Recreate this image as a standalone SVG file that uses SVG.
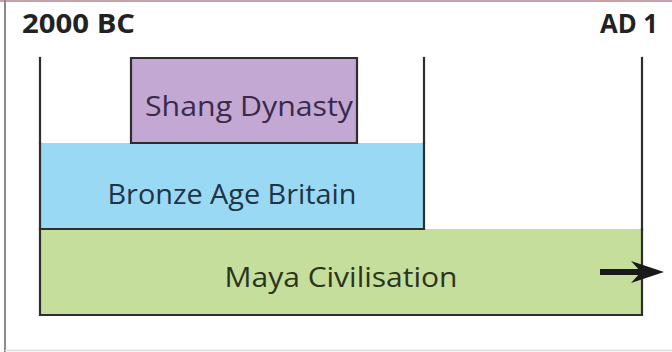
<svg xmlns="http://www.w3.org/2000/svg" width="672" height="352" viewBox="0 0 672 352">
  <style>
    .edge { stroke: #2e2e2e; stroke-width: 2.2; fill: none; stroke-linecap: square; }
    .lbl { font-family: "Open Sans", "Noto Sans", "Liberation Sans", sans-serif; font-size: 27px; text-anchor: middle; }
    .date { font-family: "Open Sans", "Liberation Sans", sans-serif; font-size: 26px; font-weight: bold; fill: #222222; }
  </style>
  <rect x="0" y="0" width="672" height="352" fill="#ffffff"/>
  <!-- frame -->
  <g id="frame">
    <line x1="0" y1="1" x2="672" y2="1" stroke="#c9a0a8" stroke-width="2"/>
    <line x1="5" y1="0" x2="5" y2="352" stroke="#8a8a8a" stroke-width="2"/>
    <line x1="5" y1="350.5" x2="672" y2="350.5" stroke="#dddddd" stroke-width="1.5"/>
  </g>
  <g id="date-start">
    <text class="date" x="22" y="33" textLength="113" lengthAdjust="spacingAndGlyphs">2000 BC</text>
  </g>
  <g id="date-end">
    <text class="date" x="600" y="33" textLength="58" lengthAdjust="spacingAndGlyphs">AD 1</text>
  </g>
  <g id="maya">
    <rect x="40" y="229" width="602" height="86" fill="#c6de9b"/>
    <path class="edge" d="M40 229 V315 H642 V229"/>
    <text class="lbl" x="341" y="287" fill="#2a3520" textLength="233" lengthAdjust="spacingAndGlyphs">Maya Civilisation</text>
  </g>
  <g id="bronze">
    <rect x="40" y="143" width="384" height="86" fill="#9ad9f4"/>
    <path class="edge" d="M40 143 V229 H424 V143"/>
    <text class="lbl" x="232" y="204" fill="#1f3446" textLength="249" lengthAdjust="spacingAndGlyphs">Bronze Age Britain</text>
  </g>
  <g id="shang">
    <rect x="131" y="58" width="226" height="85" fill="#c4a8d4"/>
    <path class="edge" d="M131 143 V58 H357 V143 H131"/>
    <text class="lbl" x="249" y="116" fill="#3a2a4a" textLength="208" lengthAdjust="spacingAndGlyphs">Shang Dynasty</text>
  </g>
  <g id="connectors">
    <line class="edge" x1="40" y1="58" x2="40" y2="143"/>
    <line class="edge" x1="424" y1="58" x2="424" y2="143"/>
    <line class="edge" x1="642" y1="58" x2="642" y2="229"/>
    <line x1="600" y1="272" x2="642" y2="272" stroke="#1a1a1a" stroke-width="6"/>
    <polygon points="664,272 631,261 641,272 631,283" fill="#1a1a1a"/>
  </g>
</svg>
